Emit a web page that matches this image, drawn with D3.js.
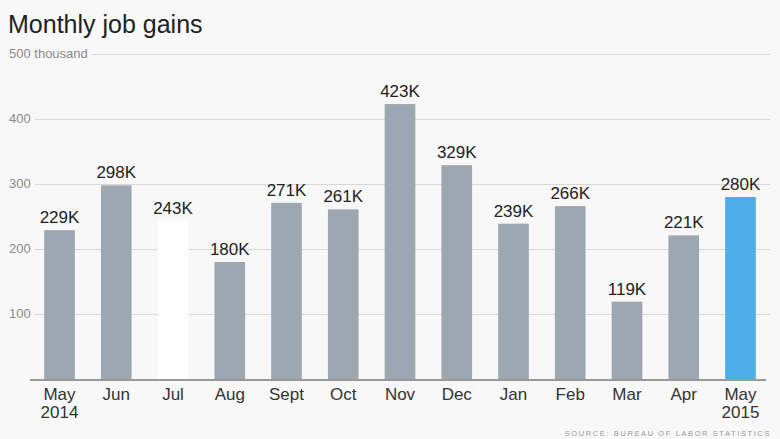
<!DOCTYPE html><html><head><meta charset="utf-8">
<script src="https://cdn.jsdelivr.net/npm/d3@7"></script>
<style>body{margin:0;background:#f8f8f8}svg{display:block;font-family:"Liberation Sans",Arial,sans-serif}</style>
</head><body><svg id="c" width="780" height="439"></svg>
<script>
const categories=["May\n2014","Jun","Jul","Aug","Sept","Oct","Nov","Dec","Jan","Feb","Mar","Apr","May\n2015"];
const values=[229,298,243,180,271,261,423,329,239,266,119,221,280];
const colors=["#9da7b2","#9da7b2","#ffffff","#9da7b2","#9da7b2","#9da7b2","#9da7b2","#9da7b2","#9da7b2","#9da7b2","#9da7b2","#9da7b2","#4daee8"];
const tickValues=[100,200,300,400,500];
const tickLabels=["100","200","300","400","500 thousand"];
const svg=d3.select("#c");
svg.append("rect").attr("width",780).attr("height",439).attr("fill","#f8f8f8");
const x=d3.scaleBand().domain(categories).range([30,770]).paddingInner(0.46).paddingOuter(0.25);
const y=d3.scaleLinear().domain([0,500]).range([379,54]);
svg.append("text").attr("x",8).attr("y",33).attr("font-size",25).attr("fill","#222").text("Monthly job gains");
tickValues.forEach((t,i)=>{
  const tx=svg.append("text").attr("x",9).attr("y",y(t)+4).attr("font-size",13).attr("fill","#8a8a8a").text(tickLabels[i]);
  const w=tx.node().getComputedTextLength();
  svg.append("line").attr("x1",9+w+4).attr("x2",770).attr("y1",y(t)+0.5).attr("y2",y(t)+0.5).attr("stroke","#d8d8d8");
});
svg.selectAll(".b").data(values).join("rect").attr("x",(d,i)=>x(categories[i])).attr("width",x.bandwidth())
 .attr("y",d=>y(d)).attr("height",d=>y(0)-y(d)).attr("fill",(d,i)=>colors[i]);
svg.selectAll(".v").data(values).join("text").attr("x",(d,i)=>x(categories[i])+x.bandwidth()/2).attr("y",d=>y(d)-7)
 .attr("text-anchor","middle").attr("font-size",17).attr("fill","#222").text(d=>d+"K");
svg.append("line").attr("x1",30).attr("x2",766).attr("y1",y(0)+1).attr("y2",y(0)+1).attr("stroke","#999").attr("stroke-width",2);
categories.forEach(c=>{
  const lines=c.split("\n");
  lines.forEach((l,j)=>svg.append("text").attr("x",x(c)+x.bandwidth()/2).attr("y",400+j*18).attr("text-anchor","middle")
   .attr("font-size",17).attr("fill","#333").text(l));
});
svg.append("text").attr("x",771).attr("y",436).attr("text-anchor","end").attr("font-size",7.5).attr("letter-spacing",1.6)
 .attr("fill","#999").text("SOURCE: BUREAU OF LABOR STATISTICS");
</script></body></html>
